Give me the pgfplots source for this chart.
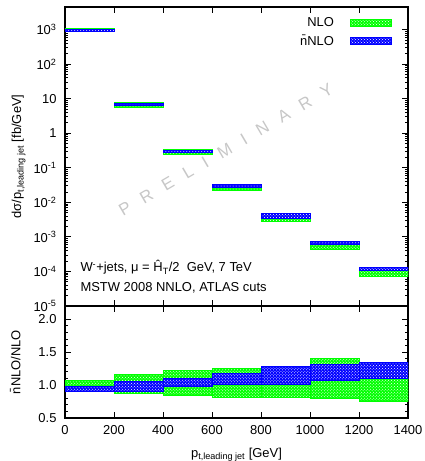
\documentclass[border=0pt]{standalone}
\usepackage{fontspec}
\setmainfont{Liberation Sans}
\usepackage{pgfplots}
\pgfplotsset{compat=1.18}
\usetikzlibrary{patterns}
\tikzset{
  bandgreen/.style={draw=green, line width=0.8pt, fill=green, postaction={pattern=crosshatch dots, pattern color=white}},
  bandblue/.style={draw=blue, line width=0.8pt, fill=blue, postaction={pattern=crosshatch dots, pattern color=white}},
}
\newcommand{\bandG}[4]{\addplot[bandgreen, forget plot] coordinates {(#1,#3) (#2,#3) (#2,#4) (#1,#4)} -- cycle;}
\newcommand{\bandB}[4]{\addplot[bandblue, forget plot] coordinates {(#1,#3) (#2,#3) (#2,#4) (#1,#4)} -- cycle;}
\newcommand{\fs}{\fontsize{13}{15}\selectfont}
\pgfplotsset{
  every axis/.append style={
    scale only axis, width=343bp,
    axis line style={line width=1.1pt}, every tick/.style={line width=0.8pt, black},
    major tick length=6bp, minor tick length=3bp,
    tick label style={font=\fs}, label style={font=\fs},
    xmin=0, xmax=1400, xtick={0,200,...,1400},
    /pgf/number format/assume math mode=true,
    /pgf/number format/1000 sep={},
  },
}
\begin{document}
\begin{tikzpicture}
\path[use as bounding box] (-65bp,-43bp) rectangle (360bp,418bp);
% ratio panel
\begin{axis}[at={(0,0)}, anchor=south west, height=112bp,
  ymin=0.5, ymax=2.2, ytick={0.5,1,1.5,2}, yticklabels={0.5,1.0,1.5,2.0},
  minor y tick num=4,
  yticklabel style={xshift=-5bp}, xticklabel style={yshift=-4bp},
  xlabel={p\textsubscript{t,leading jet} [GeV]},
  xlabel style={at={(axis description cs:0.5,-0.33)}, anchor=center},
  ylabel={\=nNLO/NLO},
  ylabel style={at={(axis description cs:-0.145,0.5)}, anchor=center},
]
\bandG{0}{200}{0.965}{1.065}
\bandG{200}{400}{0.87}{1.16}
\bandG{400}{600}{0.84}{1.22}
\bandG{600}{800}{0.82}{1.25}
\bandG{800}{1000}{0.81}{1.28}
\bandG{1000}{1200}{0.79}{1.41}
\bandG{1200}{1400}{0.75}{1.12}
\bandB{0}{200}{0.905}{0.985}
\bandB{200}{400}{0.91}{1.05}
\bandB{400}{600}{0.975}{1.10}
\bandB{600}{800}{1.01}{1.17}
\bandB{800}{1000}{1.015}{1.28}
\bandB{1000}{1200}{1.075}{1.32}
\bandB{1200}{1400}{1.10}{1.35}
\end{axis}
% main panel
\begin{axis}[at={(0,112bp)}, anchor=south west, height=299bp,
  ymode=log, ymin=1e-5, ymax=4500,
  ytickten={-5,...,3},
  yticklabels={10\textsuperscript{-5},10\textsuperscript{-4},10\textsuperscript{-3},10\textsuperscript{-2},10\textsuperscript{-1},1,10,10\textsuperscript{2},10\textsuperscript{3}},
  yticklabel style={xshift=-5bp},
  xticklabels={},
  ylabel={dσ/p\textsubscript{t,leading jet} [fb/GeV]},
  ylabel style={at={(axis description cs:-0.135,0.5)}, anchor=center},
  legend style={draw=none, fill=none, at={(axis description cs:1,1)}, anchor=north east, xshift=-13bp, yshift=-6bp, font=\fs, row sep=3bp},
  legend cell align=right, legend plot pos=right,
  legend image code/.code={\path (0bp,0bp); \draw[#1] (14bp,-3.5bp) rectangle (55bp,3.5bp);},
]
\node[rotate=30.4, text=black!22, font=\fontsize{17}{20}\selectfont] at (rel axis cs:0.469,0.522)
 {P\hspace{13bp}R\hspace{13bp}E\hspace{13bp}L\hspace{13bp}I\hspace{13bp}M\hspace{13bp}I\hspace{13bp}N\hspace{13bp}A\hspace{13bp}R\hspace{13bp}Y};
\addlegendimage{bandgreen}\addlegendentry{NLO}
\addlegendimage{bandblue}\addlegendentry{\=nNLO}
\bandG{0}{200}{870}{1080}
\bandG{200}{400}{5.6}{7.6}
\bandG{400}{600}{0.25}{0.33}
\bandG{600}{800}{0.022}{0.034}
\bandG{800}{1000}{0.0029}{0.0047}
\bandG{1000}{1200}{4.4e-4}{7.1e-4}
\bandG{1200}{1400}{7.1e-5}{1.1e-4}
\bandB{0}{200}{900}{1010}
\bandB{200}{400}{6.2}{7.1}
\bandB{400}{600}{0.27}{0.31}
\bandB{600}{800}{0.027}{0.034}
\bandB{800}{1000}{0.0034}{0.0047}
\bandB{1000}{1200}{5.9e-4}{7.6e-4}
\bandB{1200}{1400}{1.05e-4}{1.32e-4}
\node[anchor=base west, font=\fs] at (rel axis cs:0.035,0.114) {W\textsuperscript{-}+jets, μ = Ĥ\textsubscript{T}/2\ \ GeV, 7 TeV};
\node[anchor=base west, font=\fs] at (rel axis cs:0.035,0.050) {MSTW 2008 NNLO, ATLAS cuts};
\end{axis}
\end{tikzpicture}
\end{document}
